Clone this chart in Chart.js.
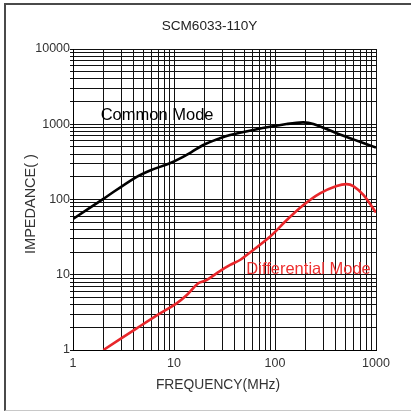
<!DOCTYPE html>
<html>
<head>
<meta charset="utf-8">
<script src="https://cdn.jsdelivr.net/npm/chart.js@4"></script>
<style>
  html, body { margin: 0; padding: 0; background: #fff; }
  #wrap { position: absolute; left: 0; top: 0; width: 411px; height: 414px; }
  #frame {
    position: absolute; left: 4px; top: 3px; width: 407px; height: 408px;
    border-top: 2px solid #4a4a4a; border-left: 2px solid #4a4a4a;
    border-bottom: 1px solid #c8c8c8; box-sizing: border-box; pointer-events: none;
  }
</style>
</head>
<body>
<div id="wrap">
  <canvas id="chart" width="411" height="414"></canvas>
  <div id="frame"></div>
</div>
<script>
// 阻抗-频率曲线数据
const cmFreq = [1, 2, 4, 5.8, 9.1, 11.5, 15, 19.5, 28.5, 36, 61, 130, 190, 240, 408, 596, 1000];
const cmImp  = [55, 102, 190, 243, 303, 352, 430, 530, 650, 720, 840, 1005, 1060, 1008, 760, 630, 490];

const dmFreq = [2, 4.27, 7.27, 10.6, 13.4, 17.4, 21, 28.5, 36, 45, 52.5, 89, 130, 190, 279, 408, 510, 596, 750, 1000];
const dmImp  = [1, 1.94, 3.07, 4.17, 5.38, 7.7, 8.5, 11.2, 13.5, 15.7, 18.3, 32, 53, 84, 121, 151, 160, 151, 115, 67];

const freqLabels = [1, 10, 100, 1000];
const impLabels = [1, 10, 100, 1000, 10000];

const FONT = "'Liberation Sans', Arial, sans-serif";

// 对数网格: 每个十倍程 1..9
function logGrid(min, max) {
  const out = [];
  for (let dec = min; dec < max; dec *= 10) {
    for (let d = 1; d < 10; d++) out.push({ value: d * dec });
  }
  out.push({ value: max });
  return out;
}

function toPoints(xs, ys) {
  return xs.map((x, i) => ({ x: x, y: ys[i] }));
}

// 标注文字和坐标轴标题
const textPlugin = {
  id: 'texts',
  afterDraw(chart) {
    const { ctx, scales } = chart;
    const xs = scales.x, ys = scales.y;
    ctx.save();
    ctx.fillStyle = '#222';
    ctx.font = '13.6px ' + FONT;
    ctx.textAlign = 'center';
    ctx.textBaseline = 'middle';
    ctx.fillText('SCM6033-110Y', 209.5, 26);

    ctx.fillStyle = '#333';
    ctx.font = '13.8px ' + FONT;
    ctx.fillText('FREQUENCY(MHz)', 218, 385);

    ctx.save();
    ctx.translate(31, 204);
    ctx.rotate(-Math.PI / 2);
    ctx.font = '14.5px ' + FONT;
    ctx.fillText('IMPEDANCE( )', 0, 0);
    ctx.restore();

    ctx.font = '16.5px ' + FONT;
    ctx.fillStyle = '#000';
    ctx.fillText('Common Mode', xs.getPixelForValue(6.8), ys.getPixelForValue(1327));

    ctx.fillStyle = '#ee3030';
    ctx.textAlign = 'left';
    ctx.fillText('Differential Mode', xs.getPixelForValue(52), ys.getPixelForValue(11.6));
    ctx.restore();
  }
};

new Chart(document.getElementById('chart'), {
  type: 'line',
  data: {
    datasets: [{
      label: 'Common Mode',
      data: toPoints(cmFreq, cmImp),
      borderColor: '#000',
      borderWidth: 2.6,
      pointRadius: 0,
      tension: 0.35,
      fill: false
    }, {
      label: 'Differential Mode',
      data: toPoints(dmFreq, dmImp),
      borderColor: '#e8262a',
      borderWidth: 2.6,
      pointRadius: 0,
      tension: 0.35,
      fill: false
    }]
  },
  options: {
    responsive: false,
    animation: false,
    layout: { padding: { left: 0, right: 35, top: 49, bottom: 0 } },
    plugins: {
      legend: { display: false },
      title: { display: false },
      tooltip: { enabled: false }
    },
    scales: {
      x: {
        type: 'logarithmic',
        min: 1,
        max: 1000,
        afterBuildTicks: scale => { scale.ticks = logGrid(1, 1000); },
        afterFit: scale => { scale.height = 64; },
        border: { color: '#000', width: 1 },
        grid: { color: '#111', lineWidth: 1, drawTicks: false },
        ticks: {
          autoSkip: false,
          maxRotation: 0,
          padding: 6,
          color: '#333',
          font: { family: FONT, size: 12.5 },
          callback: value => freqLabels.includes(value) ? String(value) : ''
        }
      },
      y: {
        type: 'logarithmic',
        min: 1,
        max: 10000,
        afterBuildTicks: scale => { scale.ticks = logGrid(1, 10000); },
        afterFit: scale => { scale.width = 73; },
        border: { color: '#000', width: 1 },
        grid: { color: '#111', lineWidth: 1, tickLength: 3 },
        ticks: {
          autoSkip: false,
          padding: 0,
          color: '#333',
          font: { family: FONT, size: 12.5 },
          callback: value => impLabels.includes(value) ? String(value) : ''
        }
      }
    }
  },
  plugins: [textPlugin]
});
</script>
</body>
</html>
